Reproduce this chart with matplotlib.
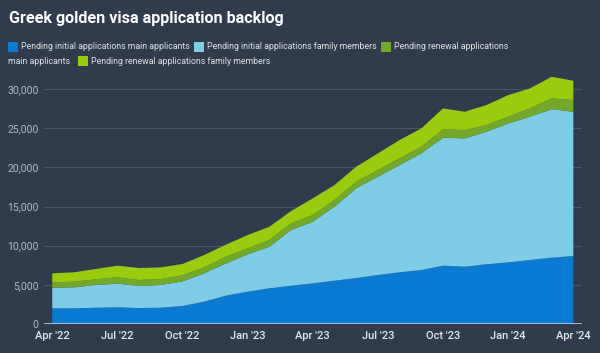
'''
stacked area chart of the greek golden visa application backlog
'''
## Imports
import numpy as np
import matplotlib.pyplot as plt
from matplotlib.patches import Rectangle

## data: monthly values, Apr '22 .. Apr '24
months = ["Apr '22", "May '22", "Jun '22", "Jul '22", "Aug '22", "Sep '22", "Oct '22", "Nov '22",
          "Dec '22", "Jan '23", "Feb '23", "Mar '23", "Apr '23", "May '23", "Jun '23", "Jul '23",
          "Aug '23", "Sep '23", "Oct '23", "Nov '23", "Dec '23", "Jan '24", "Feb '24", "Mar '24", "Apr '24"]
initial_main = [2000, 2000, 2080, 2130, 2040, 2080, 2300, 2850, 3620, 4130, 4550, 4890, 5190,
                5530, 5870, 6250, 6600, 6890, 7450, 7320, 7620, 7870, 8170, 8470, 8680]
initial_family = [2640, 2680, 2900, 3020, 2810, 2900, 3150, 3620, 4120, 4760, 5320, 7110, 7870,
                  9450, 11450, 12560, 13700, 14900, 16340, 16380, 16930, 17740, 18300, 18970, 18420]
renewal_main = [680, 720, 720, 810, 770, 760, 760, 760, 860, 770, 850, 850, 850,
                850, 850, 850, 850, 850, 1060, 1060, 850, 860, 1060, 1370, 1490]
renewal_family = [1150, 1200, 1320, 1490, 1530, 1490, 1450, 1580, 1530, 1700, 1700, 1570, 2130,
                  1910, 1910, 2130, 2340, 2340, 2680, 2340, 2560, 2760, 2550, 2760, 2470]
labels = ["Pending initial applications main applicants",
          "Pending initial applications family members",
          "Pending renewal applications main applicants",
          "Pending renewal applications family members"]
tick_months = [0, 3, 6, 9, 12, 15, 18, 21, 24]
y_ticks = [0, 5000, 10000, 15000, 20000, 25000, 30000]

## styling
bg = '#303b4c'
colors = ['#0b7ad3', '#7fcce7', '#73a92b', '#99cc0f']
W, H = 600, 353

def px(x, y):
    ## pixel coords (from top left) -> figure fraction
    return x / W, 1 - y / H

def main() -> None:
    fig = plt.figure(figsize=(6, 3.53), dpi=100, facecolor=bg)
    ## axes placed so the baseline sits at y=324 px and spans x 44..582 px
    x0, y0 = px(44, 324)
    x1, y1 = px(582, 73.4)
    ax = fig.add_axes([x0, y0, x1 - x0, y1 - y0], facecolor=bg)
    x = np.arange(len(months))
    ax.stackplot(x, initial_main, initial_family, renewal_main, renewal_family,
                 colors=colors, linewidth=0)
    ax.set_xlim(-0.38, 24.4)
    ax.set_ylim(0, 32000)
    ## grid + baseline
    for t in y_ticks[1:]:
        ax.axhline(t, color='#4b5667', linewidth=0.8, zorder=0)
    ax.axhline(0, color='#c5cfdc', linewidth=1.2, zorder=3)
    for s in ax.spines.values():
        s.set_visible(False)
    ax.set_yticks(y_ticks)
    ax.set_yticklabels(['{:,}'.format(t) for t in y_ticks], fontsize=7.5, color='#b4bac4', family='Roboto')
    ax.set_xticks(tick_months)
    ax.set_xticklabels([months[i] for i in tick_months], fontsize=8, color='#e4e7ec',
                       family='Roboto', fontweight='medium')
    ax.tick_params(axis='both', length=0)
    ax.tick_params(axis='y', pad=4)
    ax.tick_params(axis='x', pad=5)
    ## title
    fig.text(*px(9, 19), 'Greek golden visa application backlog', color='white', fontsize=11.6,
             fontweight='bold', family='Roboto', va='center', ha='left')
    ## legend, drawn by hand to match the wrapped layout
    items = [(8, 46.5, 21, labels[0], 0), (194, 46.5, 207, labels[1], 1),
             (381, 46.5, 394, 'Pending renewal applications', 2), (78, 61, 91, labels[3], 3)]
    for sx, sy, tx, txt, ci in items:
        fig.patches.append(Rectangle(px(sx, sy + 5), 10 / W, 10 / H, transform=fig.transFigure,
                                     facecolor=colors[ci], edgecolor='none'))
        fig.text(*px(tx, sy), txt, color='#dfe2e7', fontsize=6.3, family='Roboto', va='center', ha='left')
    fig.text(*px(8, 61), 'main applicants', color='#dfe2e7', fontsize=6.3, family='Roboto', va='center', ha='left')
    fig.savefig('out.png', dpi=100, facecolor=bg)

if __name__ == "__main__":
    main()
